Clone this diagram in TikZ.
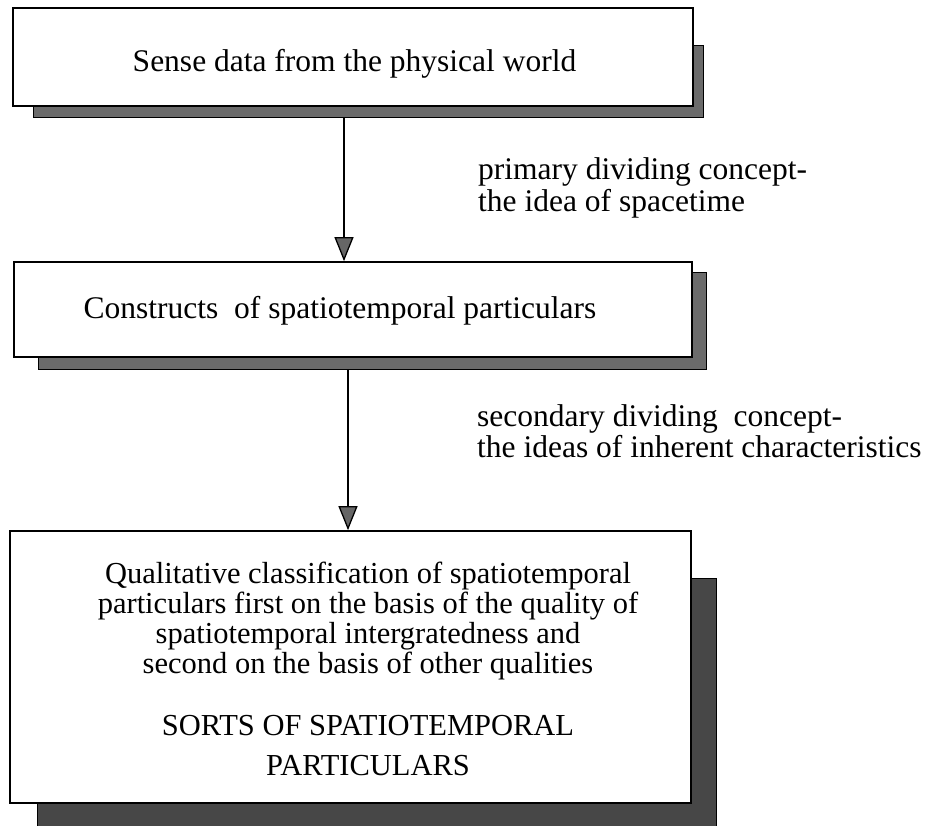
\documentclass[tikz,border=0pt]{standalone}
\usepackage{fontspec}
\setmainfont{Liberation Serif}
\usetikzlibrary{arrows.meta}
\begin{document}
\begin{tikzpicture}[x=1pt,y=-1pt,
  boxnode/.style={draw=black, line width=1.7pt, fill=white, inner sep=0pt},
  shadowbox/.style={draw=black, line width=0.9pt, fill=black!58},
  darkshadow/.style={draw=black, line width=0.9pt, fill=black!72},
  txt/.style={font=\fontsize{31.5}{32}\selectfont, inner sep=0pt, anchor=base},
  btxt/.style={font=\fontsize{30.5}{30}\selectfont, inner sep=0pt, anchor=base},
  ltxt/.style={txt, anchor=base west},
  conn/.style={line width=1.3pt, -{Triangle[length=24pt,width=19pt,fill=black!60]}}]
\useasboundingbox (0,0) rectangle (926,826);

% box 1
\draw[shadowbox] (33,45) rectangle (703,117);
\node[boxnode, minimum width=680pt, minimum height=98pt] (b1) at (353,57) {};
\node[txt] (t1) at (354.5,72) {Sense data from the physical world};

% box 2
\draw[shadowbox] (38,272) rectangle (706,369);
\node[boxnode, minimum width=678pt, minimum height=95pt] (b2) at (353,309.5) {};
\node[txt] (t2) at (340,318) {Constructs\ \ of spatiotemporal particulars};

% box 3
\draw[darkshadow] (37,578) rectangle (716,826);
\node[boxnode, minimum width=681pt, minimum height=272pt] (b3) at (350.5,667) {};
\node[btxt] (q1) at (368,583) {Qualitative classification of spatiotemporal};
\node[btxt] (q2) at (368,613) {particulars first on the basis of the quality of};
\node[btxt] (q3) at (368,643) {spatiotemporal intergratedness and};
\node[btxt] (q4) at (368,673) {second on the basis of other qualities};
\node[btxt] (q5) at (368,735) {SORTS OF SPATIOTEMPORAL};
\node[btxt] (q6) at (368,775) {PARTICULARS};

% connectors
\coordinate (a1) at (344,117);
\coordinate (a2) at (348,369);
\draw[conn] (a1) -- (a1 |- b2.north);
\draw[conn] (a2) -- (a2 |- b3.north);

% labels
\node[ltxt] (l1) at (478,180) {primary dividing concept-};
\node[ltxt] (l2) at (478,212) {the idea of spacetime};
\node[ltxt] (l3) at (477,426) {secondary dividing\ \ concept-};
\node[ltxt] (l4) at (477,457) {the ideas of inherent characteristics};
\end{tikzpicture}
\end{document}
